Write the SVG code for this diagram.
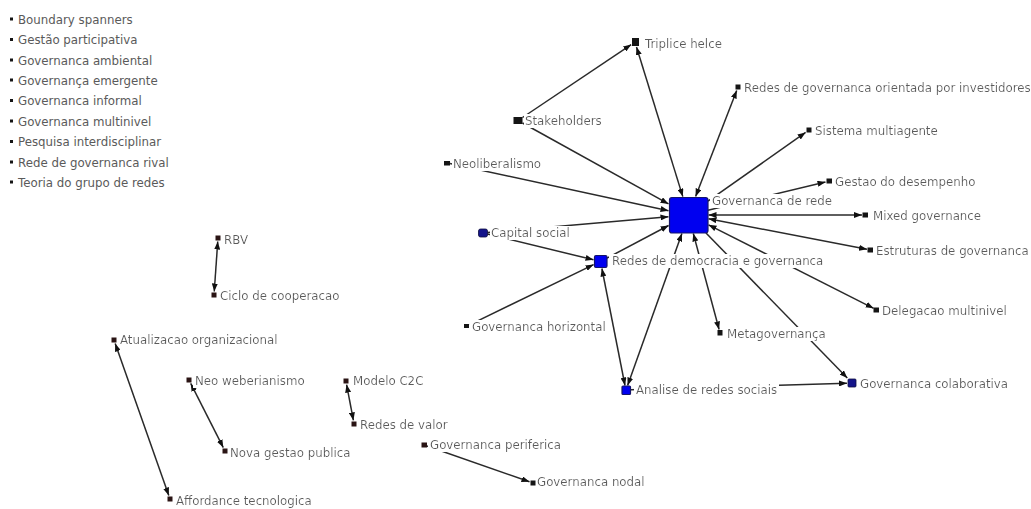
<svg xmlns="http://www.w3.org/2000/svg" width="1031" height="509" viewBox="0 0 1031 509">
  <defs>
    <style>
      text { font-family: "DejaVu Sans", "Liberation Sans", sans-serif; font-size: 11.8px; fill: #5a5a5a; }
      .lbl { filter: url(#bg); }
      .e { stroke: #2a2a2a; stroke-width: 1.5; fill: none; }
      .uni { marker-end: url(#ah); }
      .bi { marker-start: url(#ah); marker-end: url(#ah); }
      .nd { fill: #151515; }
      .ndk { fill: #2a1414; }
      .blue { fill: #0000f0; stroke: #14146a; stroke-width: 1.2; }
      .navy { fill: #14148a; stroke: #0c0c40; stroke-width: 0.8; }
    </style>
    <!-- white box behind each label, sized to the text bounds -->
    <filter id="bg" x="-0.01" y="0" width="1.02" height="1">
      <feFlood flood-color="#ffffff" result="f"/>
      <feMerge>
        <feMergeNode in="f"/>
        <feMergeNode in="SourceGraphic"/>
      </feMerge>
    </filter>
    <marker id="ah" viewBox="0 0 8 6" refX="8" refY="3" markerWidth="8" markerHeight="6" markerUnits="userSpaceOnUse" orient="auto-start-reverse">
      <path d="M0,0L8,3L0,6z" fill="#111"/>
    </marker>
  </defs>

  <rect width="1031" height="509" fill="#ffffff"/>

  <!-- connectors -->
  <g id="connectors">
    <line class="e uni" x1="522.5" y1="117.5" x2="631.2" y2="44.6"/>
    <line class="e uni" x1="522.5" y1="123" x2="668.5" y2="203.9"/>
    <line class="e bi" x1="636.5" y1="47" x2="682.8" y2="196.6"/>
    <line class="e uni" x1="450" y1="163.6" x2="668.5" y2="210.7"/>
    <line class="e bi" x1="736.7" y1="90.5" x2="695.6" y2="196.5"/>
    <line class="e uni" x1="708" y1="201.2" x2="805.6" y2="132.4"/>
    <line class="e uni" x1="708" y1="210.3" x2="825.5" y2="181.9"/>
    <line class="e bi" x1="708.5" y1="215" x2="862" y2="215"/>
    <line class="e bi" x1="708.5" y1="218.7" x2="867" y2="249.3"/>
    <line class="e bi" x1="708.5" y1="224.8" x2="873.6" y2="308.3"/>
    <line class="e uni" x1="706" y1="233" x2="847.3" y2="378.1"/>
    <line class="e bi" x1="693.3" y1="233.5" x2="719.1" y2="329.5"/>
    <line class="e bi" x1="627.6" y1="385.5" x2="681.9" y2="233.5"/>
    <line class="e uni" x1="607" y1="258.1" x2="668.6" y2="225.5"/>
    <line class="e uni" x1="487.5" y1="232.6" x2="668.5" y2="216.8"/>
    <line class="e uni" x1="487.5" y1="234.1" x2="593.5" y2="259.8"/>
    <line class="e uni" x1="470" y1="324.6" x2="593.6" y2="264.6"/>
    <line class="e bi" x1="601.9" y1="268.5" x2="625" y2="385.5"/>
    <line class="e uni" x1="631" y1="389.8" x2="847" y2="383.2"/>
    <line class="e bi" x1="217.75" y1="241.5" x2="214.25" y2="291.5"/>
    <line class="e bi" x1="115.2" y1="343.5" x2="168.8" y2="495.5"/>
    <line class="e bi" x1="190.7" y1="383.4" x2="223.3" y2="447.6"/>
    <line class="e bi" x1="346.6" y1="384.6" x2="353.4" y2="420.4"/>
    <line class="e uni" x1="427" y1="446" x2="529.5" y2="481.8"/>
  </g>

  <!-- isolated terms -->
  <g id="n-boundary-spanners"><rect class="nd" x="10" y="17.5" width="3" height="3"/><text x="18" y="23.5">Boundary spanners</text></g>
  <g id="n-gestao-participativa"><rect class="nd" x="10" y="38" width="3" height="3"/><text x="18" y="44">Gestão participativa</text></g>
  <g id="n-governanca-ambiental"><rect class="nd" x="10" y="58.5" width="3" height="3"/><text x="18" y="64.5">Governanca ambiental</text></g>
  <g id="n-governanca-emergente"><rect class="nd" x="10" y="78.5" width="3" height="3"/><text x="18" y="84.5">Governança emergente</text></g>
  <g id="n-governanca-informal"><rect class="nd" x="10" y="99" width="3" height="3"/><text x="18" y="105">Governanca informal</text></g>
  <g id="n-governanca-multinivel"><rect class="nd" x="10" y="119.5" width="3" height="3"/><text x="18" y="125.5">Governanca multinivel</text></g>
  <g id="n-pesquisa-interdisciplinar"><rect class="nd" x="10" y="140" width="3" height="3"/><text x="18" y="146">Pesquisa interdisciplinar</text></g>
  <g id="n-rede-governanca-rival"><rect class="nd" x="10" y="160.5" width="3" height="3"/><text x="18" y="166.5">Rede de governanca rival</text></g>
  <g id="n-teoria-grupo-redes"><rect class="nd" x="10" y="180.5" width="3" height="3"/><text x="18" y="186.5">Teoria do grupo de redes</text></g>

  <!-- main component -->
  <g id="n-governanca-de-rede"><text class="lbl" x="712" y="205">Governanca de rede</text><rect class="blue" x="669.5" y="197.5" width="38.5" height="35.5" rx="2.5"/></g>
  <g id="n-triplice-helce"><text class="lbl" x="645" y="47.5">Triplice helce</text><rect class="nd" x="632" y="38" width="7" height="8"/></g>
  <g id="n-stakeholders"><text class="lbl" x="525" y="125">Stakeholders</text><rect class="nd" x="513.5" y="117" width="9" height="7"/></g>
  <g id="n-neoliberalismo"><text class="lbl" x="453" y="168">Neoliberalismo</text><rect class="nd" x="444" y="161" width="6" height="4.5"/></g>
  <g id="n-redes-investidores"><text class="lbl" x="744" y="92">Redes de governanca orientada por investidores</text><rect class="nd" x="735.5" y="84.5" width="5" height="5"/></g>
  <g id="n-sistema-multiagente"><text class="lbl" x="815" y="135">Sistema multiagente</text><rect class="nd" x="806.5" y="127.5" width="5" height="5"/></g>
  <g id="n-gestao-desempenho"><text class="lbl" x="835" y="186">Gestao do desempenho</text><rect class="nd" x="826.5" y="178.5" width="5.5" height="5"/></g>
  <g id="n-mixed-governance"><text class="lbl" x="873" y="220">Mixed governance</text><rect class="nd" x="862.5" y="212.5" width="5.5" height="5"/></g>
  <g id="n-estruturas-governanca"><text class="lbl" x="876" y="255">Estruturas de governanca</text><rect class="nd" x="867.5" y="247.5" width="5.5" height="5"/></g>
  <g id="n-delegacao-multinivel"><text class="lbl" x="882" y="315">Delegacao multinivel</text><rect class="nd" x="873.5" y="307.5" width="5.5" height="5"/></g>
  <g id="n-metagovernanca"><text class="lbl" x="727" y="338">Metagovernança</text><rect class="nd" x="717.5" y="330" width="5" height="5.5"/></g>
  <g id="n-redes-democracia"><text class="lbl" x="612" y="265">Redes de democracia e governanca</text><rect class="blue" x="594.5" y="255.5" width="12.5" height="12" rx="1.5"/></g>
  <g id="n-capital-social"><text class="lbl" x="491" y="237">Capital social</text><rect class="navy" x="478.5" y="229" width="9" height="8" rx="2"/></g>
  <g id="n-governanca-horizontal"><text class="lbl" x="472" y="331">Governanca horizontal</text><rect class="nd" x="464" y="324" width="5" height="4"/></g>
  <g id="n-analise-redes-sociais"><text class="lbl" x="636" y="394">Analise de redes sociais</text><rect class="blue" x="622" y="386" width="8.5" height="8.5" rx="1"/></g>
  <g id="n-governanca-colaborativa"><text class="lbl" x="860" y="387.5">Governanca colaborativa</text><rect class="navy" x="848" y="379" width="8" height="8" rx="1"/></g>

  <!-- smaller components -->
  <g id="n-rbv"><text class="lbl" x="224" y="244">RBV</text><rect class="ndk" x="215.5" y="235.5" width="5" height="5"/></g>
  <g id="n-ciclo-cooperacao"><text class="lbl" x="220" y="300">Ciclo de cooperacao</text><rect class="ndk" x="211.5" y="292.5" width="5" height="5"/></g>
  <g id="n-atualizacao-organizacional"><text class="lbl" x="120" y="344">Atualizacao organizacional</text><rect class="ndk" x="111.5" y="337.5" width="5" height="5"/></g>
  <g id="n-affordance-tecnologica"><text class="lbl" x="176" y="505">Affordance tecnologica</text><rect class="ndk" x="167.5" y="496.5" width="5" height="5"/></g>
  <g id="n-neo-weberianismo"><text class="lbl" x="195" y="385">Neo weberianismo</text><rect class="ndk" x="186.5" y="377.5" width="5" height="5"/></g>
  <g id="n-nova-gestao-publica"><text class="lbl" x="230" y="457">Nova gestao publica</text><rect class="ndk" x="222.5" y="448.5" width="5" height="5"/></g>
  <g id="n-modelo-c2c"><text class="lbl" x="353" y="385">Modelo C2C</text><rect class="ndk" x="343.5" y="378.5" width="5" height="5"/></g>
  <g id="n-redes-valor"><text class="lbl" x="360" y="429">Redes de valor</text><rect class="ndk" x="351.5" y="421.5" width="5" height="5"/></g>
  <g id="n-governanca-periferica"><text class="lbl" x="430" y="449">Governanca periferica</text><rect class="ndk" x="421.5" y="442.5" width="5.5" height="5"/></g>
  <g id="n-governanca-nodal"><text class="lbl" x="537" y="486">Governanca nodal</text><rect class="nd" x="530.5" y="480.5" width="5" height="5"/></g>
</svg>
